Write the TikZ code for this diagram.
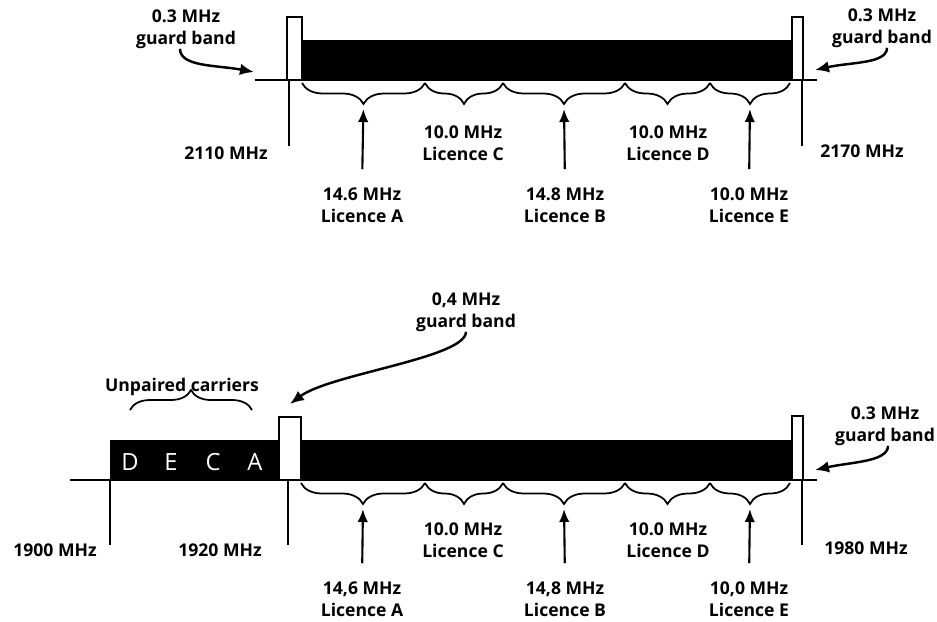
\documentclass[tikz,border=0pt]{standalone}
\usepackage{fontspec}
\setmainfont{Open Sans}
\usetikzlibrary{arrows.meta,decorations.pathreplacing}

\begin{document}
\begin{tikzpicture}[
  x=0.02cm,y=-0.02cm,
  >=Latex,
  every node/.style={font=\fontsize{10}{12.5}\selectfont\bfseries,align=center,inner sep=0pt},
  guard/.style={draw=black,fill=white,line width=1pt},
  tick/.style={line width=1pt},
  brc/.style={decorate,line width=1pt,decoration={brace,mirror,amplitude=0.42cm}},
  brcup/.style={decorate,line width=1pt,decoration={brace,amplitude=0.4cm}},
  up/.style={-{Latex[length=2.6mm,width=2.1mm]},line width=1.2pt,shorten <=0.36cm,shorten >=0.1cm},
  curl/.style={-{Latex[length=2.8mm,width=2.3mm]},line width=1.4pt},
  deca/.style={font=\fontsize{13.5}{15}\selectfont,text=white}
]
  \useasboundingbox (0,0) rectangle (937,622);

  % 2110 - 2170 MHz
  \draw[tick] (255,80) -- (817,80);
  \fill (302,40) rectangle (792,81);
  \draw[guard] (287,17) rectangle (302,80);
  \draw[guard] (792,17) rectangle (803,80);
  \draw[tick] (289,80) -- (289,146);
  \draw[tick] (802,80) -- (802,146);
  \node (f2110) at (226,153) {2110 MHz};
  \node (f2170) at (862,151) {2170 MHz};

  \draw[brc] (302,83) -- (425,83);
  \draw[brc] (425,83) -- (503,83);
  \draw[brc] (503,83) -- (625,83);
  \draw[brc] (625,83) -- (710,83);
  \draw[brc] (710,83) -- (790,83);
  \coordinate (tipA) at (363.5,104);
  \coordinate (tipB) at (564,104);
  \coordinate (tipE) at (750,104);

  \node (tA) at (362,205) {14.6 MHz\\Licence A};
  \node (tC) at (463,143) {10.0 MHz\\Licence C};
  \node (tB) at (565,205) {14.8 MHz\\Licence B};
  \node (tD) at (668,143) {10.0 MHz\\Licence D};
  \node (tE) at (749,205) {10.0 MHz\\Licence E};
  \draw[up] (tA.north) -- (tipA);
  \draw[up] (tB.north) -- (tipB);
  \draw[up] (tE.north) -- (tipE);

  \node (gTL) at (186,29) {0.3 MHz\\guard band};
  \coordinate (gTLend) at (254,72);
  \draw[curl] ([xshift=-0.12cm]gTL.south) .. controls +(0,18) and +(-38,-7) .. (gTLend);
  \node (gTR) at (882,28) {0.3 MHz\\guard band};
  \coordinate (gTRend) at (815,70);
  \draw[curl] ([xshift=0.1cm]gTR.south) .. controls +(0,16) and +(36,-8) .. (gTRend);

  % 1900 - 1980 MHz
  \draw[tick] (70,480) -- (817,480);
  \fill (110,440) rectangle (280,481);
  \fill (301,440) rectangle (792,481);
  \draw[guard] (279,417) rectangle (301,480);
  \draw[guard] (792,416) rectangle (803,480);
  \draw[tick] (110,480) -- (110,545);
  \draw[tick] (288,480) -- (288,545);
  \draw[tick] (802,480) -- (802,545);
  \node (f1900) at (55,550) {1900 MHz};
  \node (f1920) at (220,550) {1920 MHz};
  \node (f1980) at (866,548) {1980 MHz};

  \node[deca] (dD) at (130,462) {D};
  \node[deca] (dE) at (171,462) {E};
  \node[deca] (dC) at (213,462) {C};
  \node[deca] (dA) at (255,462) {A};
  \node (unp) at (182,387) {Unpaired carriers};
  \draw[brcup] (130,410) -- (252,410);

  \draw[brc] (301,483) -- (425,483);
  \draw[brc] (425,483) -- (503,483);
  \draw[brc] (503,483) -- (625,483);
  \draw[brc] (625,483) -- (710,483);
  \draw[brc] (710,483) -- (790,483);
  \coordinate (btipA) at (363,504);
  \coordinate (btipB) at (564,504);
  \coordinate (btipE) at (750,504);

  \node (bA) at (362,599) {14,6 MHz\\Licence A};
  \node (bC) at (463,540) {10.0 MHz\\Licence C};
  \node (bB) at (565,599) {14,8 MHz\\Licence B};
  \node (bD) at (668,540) {10.0 MHz\\Licence D};
  \node (bE) at (749,599) {10,0 MHz\\Licence E};
  \draw[up] (bA.north) -- (btipA);
  \draw[up] (bB.north) -- (btipB);
  \draw[up] (bE.north) -- (btipE);

  \node (gM) at (466,312) {0,4 MHz\\guard band};
  \coordinate (gMend) at (290,404);
  \draw[curl] (gM.south) .. controls +(0,26) and +(40,-30) .. (gMend);
  \node (gBR) at (885,426) {0.3 MHz\\guard band};
  \coordinate (gBRend) at (815,470);
  \draw[curl] ([xshift=0.06cm]gBR.south) .. controls +(0,16) and +(36,-8) .. (gBRend);
\end{tikzpicture}
\end{document}
